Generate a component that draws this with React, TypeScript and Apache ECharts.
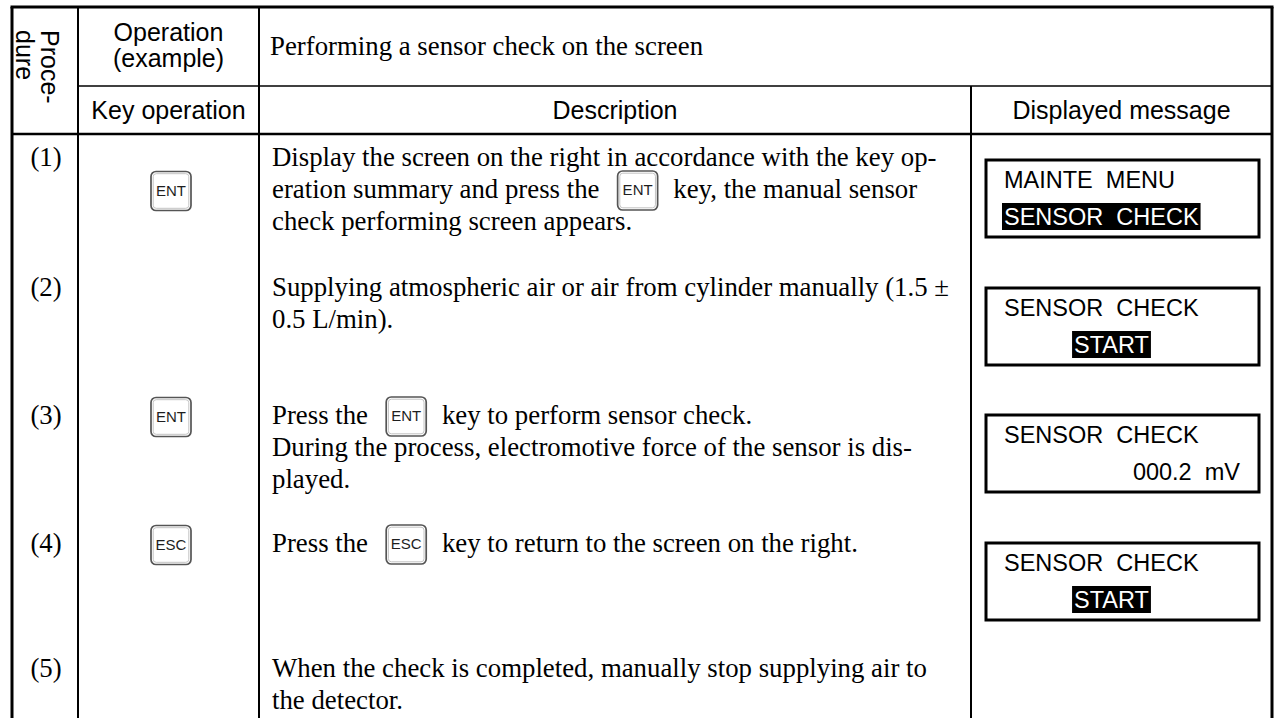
import React, { useEffect, useRef } from "react";
import * as echarts from "echarts";

// ---------- content ----------
const headerTitle = "Performing a sensor check on the screen";
const headerProcedure = ["Proce-", "dure"];
const headerOperation = ["Operation", "(example)"];
const headerKeyOperation = "Key operation";
const headerDescription = "Description";
const headerDisplayed = "Displayed message";

const stepLabels = ["(1)", "(2)", "(3)", "(4)", "(5)"];
const stepKeys = ["ENT", "", "ENT", "ESC", ""];

const step1Text = [
  "Display the screen on the right in accordance with the key op-",
  "eration summary and press the [ENT] key, the manual sensor",
  "check performing screen appears.",
];
const step2Text = [
  "Supplying atmospheric air or air from cylinder manually (1.5 \u00b1",
  "0.5 L/min).",
];
const step3Text = [
  "Press the [ENT] key to perform sensor check.",
  "During the process, electromotive force of the sensor is dis-",
  "played.",
];
const step4Text = ["Press the [ESC] key to return to the screen on the right."];
const step5Text = [
  "When the check is completed, manually stop supplying air to",
  "the detector.",
];
const descriptions = [step1Text, step2Text, step3Text, step4Text, step5Text];

const displayLine1 = ["MAINTE  MENU", "SENSOR  CHECK", "SENSOR  CHECK", "SENSOR  CHECK"];
const displayLine2 = ["SENSOR  CHECK", "START", "000.2  mV", "START"];
const displayInverted = [true, true, false, true];

// ---------- layout ----------
const W = 1277;
const H = 718;
const X_L = 12;
const X_C1 = 78;
const X_C2 = 259;
const X_C3 = 971;
const X_R = 1272;
const Y_T = 7;
const Y_H1 = 86;
const Y_H2 = 134;
const ROW_Y = [157, 287, 415, 543, 668];
const LINE_H = 32;
const DESC_X = 272;
const BOX_X = 986;
const BOX_W = 273;
const BOX_H = 77;
const BOX_TOPS = [160, 288, 415, 543];
const LINE2_ALIGN = ["left", "center", "right", "center"];
const KEY_W = 40;
const KEY_H = 39;
const KEY_ML = 11.5;
const KEY_MR = 9;

const SERIF = "'Liberation Serif', 'Times New Roman', serif";
const SANS = "'Liberation Sans', Arial, Helvetica, sans-serif";
const F_SERIF = `26.8px ${SERIF}`;
const F_HEAD = `25px ${SANS}`;
const F_DISP = `23.5px ${SANS}`;
const F_KEY = `15px ${SANS}`;

let measureCtx: CanvasRenderingContext2D | null = null;
function tw(t: string, font: string): number {
  if (!measureCtx) measureCtx = document.createElement("canvas").getContext("2d");
  measureCtx!.font = font;
  return measureCtx!.measureText(t).width;
}

function buildElements(): any[] {
  const els: any[] = [];
  const line = (x1: number, y1: number, x2: number, y2: number, w: number) =>
    els.push({ type: "line", silent: true, shape: { x1, y1, x2, y2 }, style: { stroke: "#000", lineWidth: w } });
  const text = (t: string, x: number, y: number, font: string, align = "left", fill = "#000", extra: any = {}) =>
    els.push({
      type: "text",
      silent: true,
      x,
      y,
      ...extra,
      style: {
        text: t,
        x: 0,
        y: 0,
        font,
        fill,
        align,
        textAlign: align,
        verticalAlign: "middle",
        textVerticalAlign: "middle",
      },
    });
  const keyIcon = (cx: number, cy: number, label: string) => {
    els.push({
      type: "rect",
      silent: true,
      shape: { x: cx - KEY_W / 2, y: cy - KEY_H / 2, width: KEY_W, height: KEY_H, r: 5 },
      style: { fill: "#fff", stroke: "#555", lineWidth: 1.7 },
    });
    els.push({
      type: "rect",
      silent: true,
      shape: { x: cx - KEY_W / 2 + 2.2, y: cy - KEY_H / 2 + 2.2, width: KEY_W - 4.4, height: KEY_H - 4.4, r: 3 },
      style: { fill: "none", stroke: "#c4c4c4", lineWidth: 1 },
    });
    text(label, cx, cy - 1, F_KEY, "center", "#1e1e1e");
  };
  // word-spaced text (keeps double spaces visible)
  const words = (t: string, x: number, y: number, font: string, align: string, fill: string) => {
    const parts = t.split("  ");
    const gap = tw("  ", font);
    const total = tw(t, font);
    let sx = align === "left" ? x : align === "center" ? x - total / 2 : x - total;
    parts.forEach((p) => {
      text(p, sx, y, font, "left", fill);
      sx += tw(p, font) + gap;
    });
  };

  // ---- grid ----
  line(X_L, Y_T, X_L, H, 3);
  line(X_L - 1.5, Y_T, X_R + 1.5, Y_T, 3);
  line(X_R, Y_T, X_R, H, 3);
  line(X_C1, Y_T, X_C1, H, 2);
  line(X_C2, Y_T, X_C2, H, 2);
  line(X_C3, Y_H1, X_C3, H, 2);
  line(X_C1, Y_H1, X_R, Y_H1, 1.5);
  line(X_L, Y_H2, X_R, Y_H2, 2.5);

  // ---- header ----
  text(headerProcedure[0], 50, 30, `25px ${SANS}`, "left", "#000", { rotation: -Math.PI / 2 });
  text(headerProcedure[1], 25, 30, `25px ${SANS}`, "left", "#000", { rotation: -Math.PI / 2 });
  const c2 = (X_C1 + X_C2) / 2;
  text(headerOperation[0], c2, 32, F_HEAD, "center");
  text(headerOperation[1], c2, 58, F_HEAD, "center");
  text(headerKeyOperation, c2, 110, F_HEAD, "center");
  text(headerTitle, DESC_X - 2, 46, F_SERIF, "left");
  text(headerDescription, (X_C2 + X_C3) / 2, 110, F_HEAD, "center");
  text(headerDisplayed, (X_C3 + X_R) / 2, 110, F_HEAD, "center");

  // ---- steps ----
  const spaceW = tw(" ", F_SERIF);
  stepLabels.forEach((lab, i) => {
    const y0 = ROW_Y[i];
    text(lab, (X_L + X_C1) / 2 + 1, y0, F_SERIF, "center");
    const lines = descriptions[i];
    let keyLine = 0;
    lines.forEach((ln, li) => {
      const y = y0 + li * LINE_H;
      if (/\[(ENT|ESC)\]/.test(ln)) keyLine = li;
      const parts = ln.split(/\[(ENT|ESC)\]/);
      let x = DESC_X;
      parts.forEach((p, pi) => {
        if (pi % 2 === 1) {
          x += KEY_ML;
          keyIcon(x + KEY_W / 2, y + 1.5, p);
          x += KEY_W + KEY_MR;
        } else if (p.length) {
          const lead = p.length - p.replace(/^ +/, "").length;
          const trimmed = p.trim();
          if (trimmed) text(trimmed, x + lead * spaceW, y, F_SERIF, "left");
          x += tw(p, F_SERIF);
        }
      });
    });
    if (stepKeys[i]) keyIcon(171, y0 + keyLine * LINE_H + 2, stepKeys[i]);
  });

  // ---- displayed messages ----
  BOX_TOPS.forEach((top, i) => {
    els.push({
      type: "rect",
      silent: true,
      shape: { x: BOX_X, y: top, width: BOX_W, height: BOX_H },
      style: { fill: "#fff", stroke: "#000", lineWidth: 3 },
    });
    words(displayLine1[i], 1004, top + 20, F_DISP, "left", "#000");
    const al = LINE2_ALIGN[i];
    const ax = al === "left" ? 1004 : al === "center" ? 1111.5 : 1240;
    const y2 = top + 56.5;
    if (displayInverted[i]) {
      const total = tw(displayLine2[i], F_DISP);
      const left = al === "left" ? ax : al === "center" ? ax - total / 2 : ax - total;
      els.push({
        type: "rect",
        silent: true,
        shape: { x: left - 2, y: y2 - 13.5, width: total + 4, height: 27 },
        style: { fill: "#000" },
      });
      words(displayLine2[i], ax, y2, F_DISP, al, "#fff");
    } else {
      words(displayLine2[i], ax, y2, F_DISP, al, "#000");
    }
  });

  return els;
}

export default function App() {
  const ref = useRef<HTMLDivElement>(null);
  useEffect(() => {
    const el = ref.current!;
    const chart = echarts.init(el, undefined, { renderer: "svg", width: W, height: H });
    chart.setOption({
      animation: false,
      backgroundColor: "#fff",
      graphic: { elements: buildElements() },
    });
    return () => chart.dispose();
  }, []);
  return (
    <div
      ref={ref}
      style={{ position: "fixed", left: 0, top: 0, width: W, height: H, background: "#fff" }}
    />
  );
}
